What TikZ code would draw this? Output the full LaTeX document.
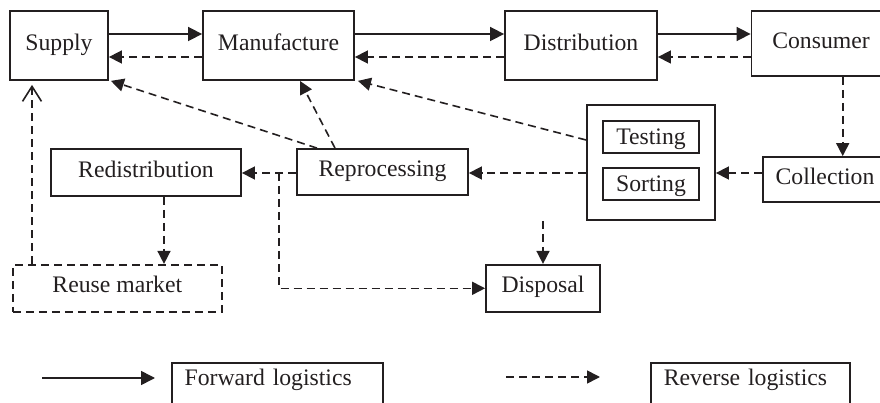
\documentclass[tikz,border=0pt]{standalone}
\usepackage{fontspec}
\setmainfont{Liberation Serif}
\usetikzlibrary{arrows.meta}
\definecolor{LineInk}{HTML}{231F20}

\begin{document}
\begin{tikzpicture}[x=1pt, y=-1pt, every node/.style={font=\fontsize{23.7}{28}\selectfont, text=LineInk}]
  \tikzstyle{box}=[rectangle, draw=LineInk, line width=1.8pt, inner sep=0pt,
  text height=16.4pt, text depth=7.2pt]
  \tikzstyle{smallbox}=[box, minimum width=96pt, minimum height=32pt, text height=18pt, text depth=3pt]
  \tikzstyle{keybox}=[box, anchor=north west, inner xsep=13pt, align=left,
  text height=23.3pt, text depth=30pt]
  \tikzstyle{fwd}=[draw=LineInk, line width=1.6pt, -{Triangle[length=14pt,width=14pt]}]
  \tikzstyle{rev}=[draw=LineInk, line width=1.6pt, dash pattern=on 8pt off 5pt,
  -{Triangle[length=13pt,width=13pt]}]
  \useasboundingbox (0,0) rectangle (880,403);
  \clip (0,0) rectangle (880,403);
  \node[box, minimum width=98pt, minimum height=69pt] (supply) at (59,45.5) {Supply};
  \node[box, minimum width=151pt, minimum height=69pt] (manu) at (278.5,45.5) {Manufacture};
  \node[box, minimum width=152pt, minimum height=69pt] (distr) at (581,45.5) {Distribution};
  \node[box, minimum width=139pt, minimum height=65pt] (consumer) at (821,43.5) {Consumer};
  \node[box, minimum width=124pt, minimum height=45pt] (collect) at (825,179.5) {Collection};
  \node[box, minimum width=128pt, minimum height=115pt] (check) at (651,162.5) {};
  \node[smallbox] (testing) at (651,136.7) {Testing};
  \node[smallbox] (sorting) at (651,184.2) {Sorting};
  \node[box, minimum width=171pt, minimum height=46pt] (repro) at (382.5,172) {Reprocessing};
  \node[box, minimum width=190pt, minimum height=47pt] (redis) at (146,172.5) {Redistribution};
  \node[box, dash pattern=on 8pt off 5pt, minimum width=209pt, minimum height=47pt] (reuse) at (117.3,288.3) {Reuse market};
  \node[box, minimum width=114pt, minimum height=47pt] (disposal) at (543,288.3) {Disposal};
  \node[keybox, text width=185pt] (fwdkey) at (170.7,361.7) {Forward logistics};
  \node[keybox, text width=173pt] (revkey) at (650,361.7) {Reverse logistics};
  \coordinate (topfwd) at (0,34);
  \coordinate (toprev) at (0,57);
  \coordinate (midrow) at (0,173);
  \coordinate (colx) at (842.7,0);
  \coordinate (reusex) at (164,0);
  \coordinate (supplyx) at (32,0);
  \coordinate (split) at (279,173);
  \coordinate (fwdA) at (42,378);
  \coordinate (fwdB) at (155,378);
  \coordinate (revA) at (506,377);
  \coordinate (revB) at (600,377);
  \draw[fwd] (supply.east |- topfwd) -- (manu.west |- topfwd);
  \draw[fwd] (manu.east |- topfwd) -- (distr.west |- topfwd);
  \draw[fwd] (distr.east |- topfwd) -- (consumer.west |- topfwd);
  \draw[rev] (manu.west |- toprev) -- (supply.east |- toprev);
  \draw[rev] (distr.west |- toprev) -- (manu.east |- toprev);
  \draw[rev] (consumer.west |- toprev) -- (distr.east |- toprev);
  \draw[rev] (consumer.south -| colx) -- (collect.north -| colx);
  \draw[rev] (collect.west |- midrow) -- (check.east |- midrow);
  \draw[rev] (check.west |- midrow) -- (repro.east |- midrow);
  \draw[rev] (repro.west |- midrow) -- (redis.east |- midrow);
  \draw[rev] (split) |- (disposal.west);
  \draw[rev] (check.south -| disposal.north) -- (disposal.north);
  \draw[rev] (redis.south -| reusex) -- (reuse.north -| reusex);
  \draw[rev, -{Straight Barb[length=15pt,width=19pt]}, shorten >=4pt] (reuse.north -| supplyx) -- (supply.south -| supplyx);
  \draw[rev] ([xshift=-65.5pt]repro.north) -- ([xshift=2pt]supply.south east);
  \draw[rev] ([xshift=-47.5pt]repro.north) -- ([xshift=21.5pt]manu.south);
  \draw[rev] ([yshift=22.5pt]check.west) -- ([xshift=3pt]manu.south east);
  \draw[fwd] (fwdA) -- (fwdB);
  \draw[rev] (revA) -- (revB);
\end{tikzpicture}
\end{document}
